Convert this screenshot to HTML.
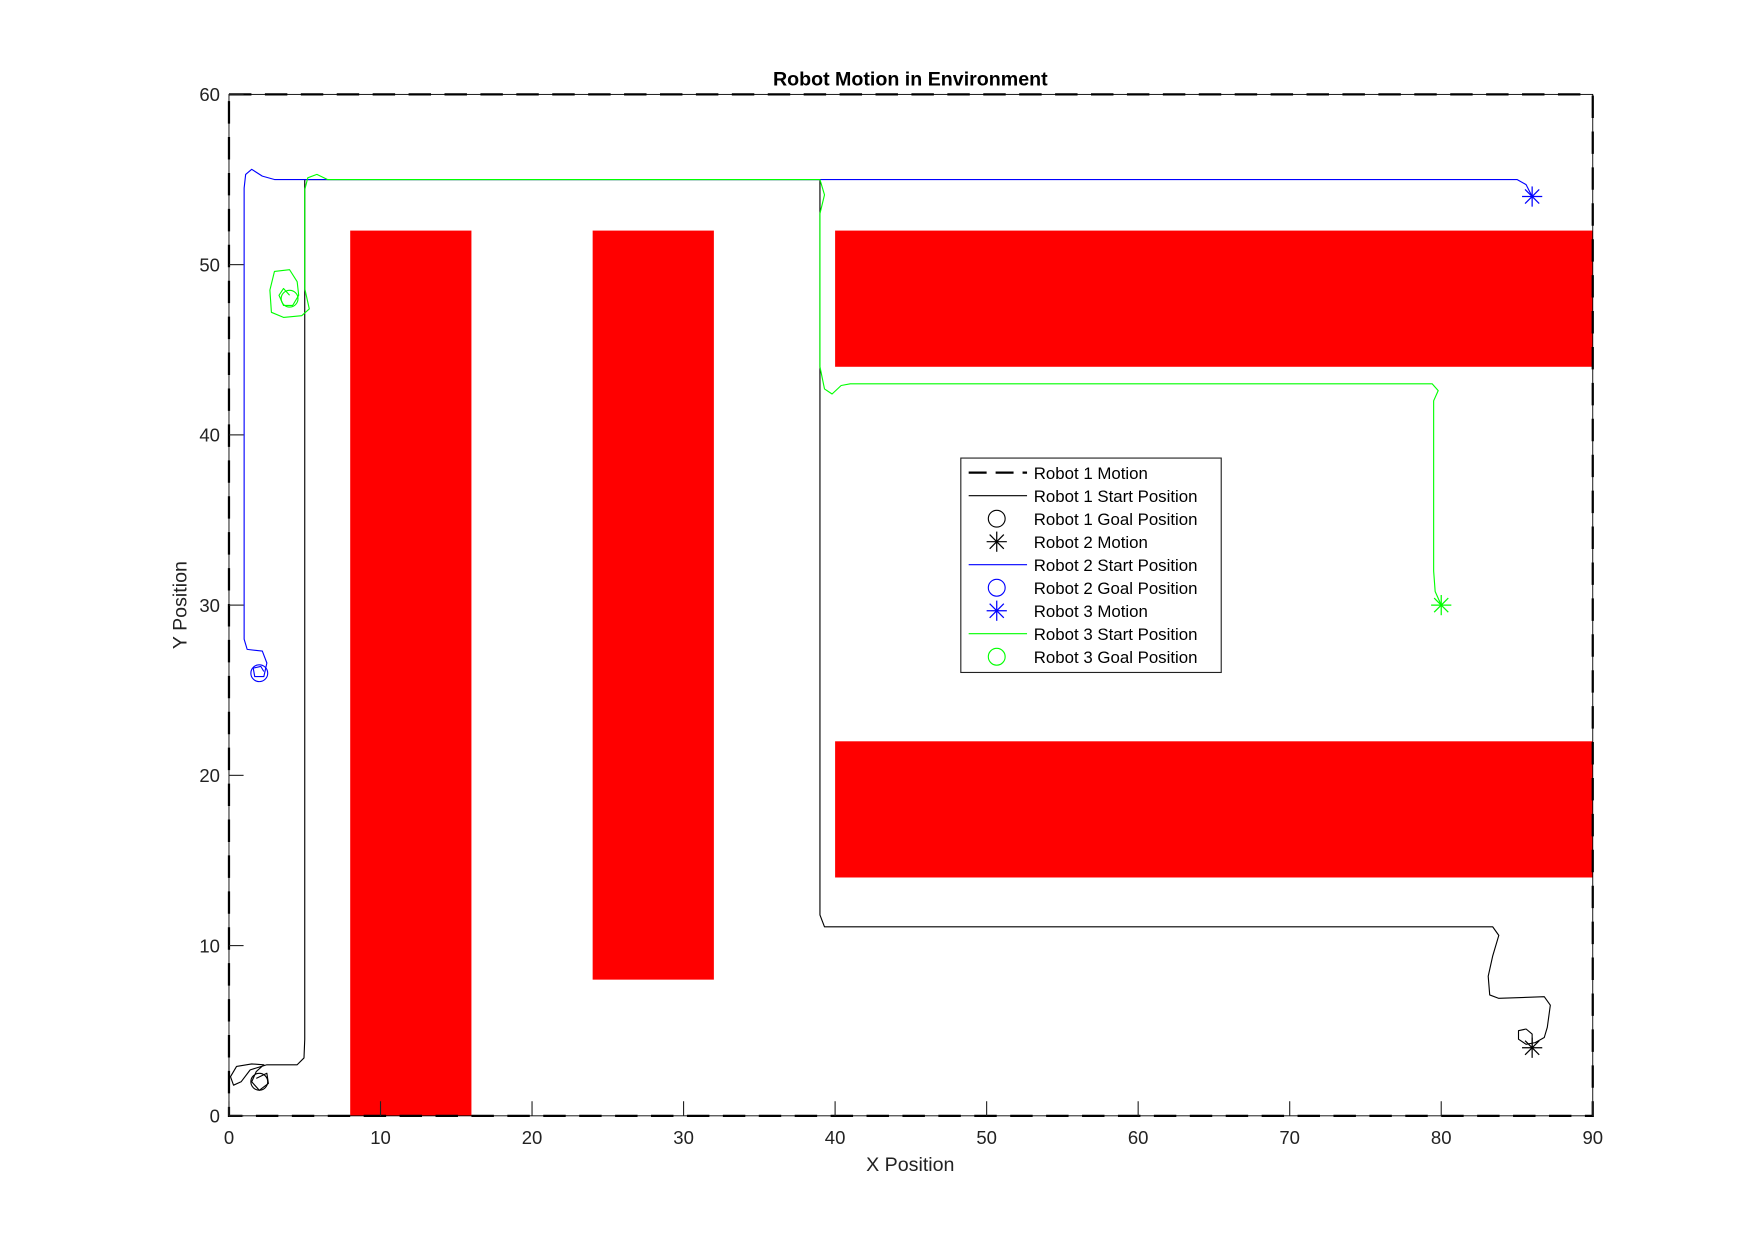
<!DOCTYPE html>
<html><head><meta charset="utf-8"><style>
html,body{margin:0;padding:0;background:#fff;width:1760px;height:1254px;overflow:hidden}
svg{display:block;font-family:"Liberation Sans",sans-serif}
</style></head><body>
<svg id="chart" width="1760" height="1254" viewBox="0 0 1568 1117" xmlns="http://www.w3.org/2000/svg">
<rect width="1568" height="1117" fill="#fff"/>
<g id="obst"></g>
<g id="paths"></g>
<g id="axes"></g>
<text x="811" y="76" text-anchor="middle" font-size="17.5" font-weight="bold">Robot Motion in Environment</text>
<text x="811" y="1043" text-anchor="middle" font-size="17.5" fill="#222">X Position</text>
<text transform="translate(166,539) rotate(-90)" text-anchor="middle" font-size="17.5" fill="#222">Y Position</text>
<g id="legend"></g>
</svg>
<script>
const xTicks=[0,10,20,30,40,50,60,70,80,90];
const yTicks=[0,10,20,30,40,50,60];
const obstacles=[[8,16,0,52],[24,32,8,52],[40,90,44,52],[40,90,14,22]];
const robot1Path=[[1.8,2.2],[2.5,2.5],[2.6,1.9],[2,1.5],[1.5,2],[1.8,2.6],[2.3,3.0],[1.5,3.05],[0.5,2.9],[0.1,2.3],[0.3,1.8],[0.8,2.0],[1.4,2.7],[2.5,3.0],[4.5,3.0],[4.95,3.4],[5,4.5],[5,49.3],[5,55],[39,55],[39,11.8],[39.3,11.1],[40,11.1],[83.4,11.1],[83.8,10.6],[83.4,9.4],[83.1,8.2],[83.2,7.1],[83.8,6.9],[86.8,7.0],[87.2,6.5],[87,5.2],[86.8,4.6],[86.2,4.3],[85.6,4.2],[85.1,4.5],[85.1,5.0],[85.6,5.1],[86,4.8],[86,4.0]];
const robot2Path=[[86,54],[85.6,54.7],[85,55],[3,55],[2.2,55.2],[1.5,55.6],[1.1,55.3],[1,54.5],[1,28],[1.2,27.4],[2.2,27.3],[2.5,26.6],[2.3,25.8],[1.7,25.8],[1.6,26.3],[2.1,26.4],[2.3,26.1]];
const robot3Path=[[80,30],[79.6,30.8],[79.5,32],[79.5,42],[79.8,42.6],[79.4,43],[41,43],[40.4,42.9],[39.8,42.4],[39.3,42.7],[39,44],[39,53],[39.3,54.1],[39,55],[6.5,55],[5.8,55.3],[5.2,55.1],[5,54.4],[5,48.6],[5.3,47.4],[4.8,47.0],[3.6,46.9],[2.8,47.2],[2.7,48.5],[3,49.6],[4,49.7],[4.5,49],[4.6,48.2],[4.2,47.6],[3.6,47.6],[3.3,48.2],[3.6,48.6],[4,48.2]];
const starts=[[86,4,'#000'],[86,54,'#00f'],[80,30,'#0f0']];
const goals=[[2,2,'#000'],[2,26,'#00f'],[4,48,'#0f0']];
const legendLabels=['Robot 1 Motion','Robot 1 Start Position','Robot 1 Goal Position','Robot 2 Motion','Robot 2 Start Position','Robot 2 Goal Position','Robot 3 Motion','Robot 3 Start Position','Robot 3 Goal Position'];
const NS='http://www.w3.org/2000/svg';
const X0=204,X1=1419,Y0=994,Y1=84;
const sx=v=>X0+(X1-X0)*v/90, sy=v=>Y0-(Y0-Y1)*v/60;
function mk(tag,attrs,parent){const e=document.createElementNS(NS,tag);for(const k in attrs)e.setAttribute(k,attrs[k]);parent.appendChild(e);return e;}
const gO=document.getElementById('obst'),gP=document.getElementById('paths'),gA=document.getElementById('axes'),gL=document.getElementById('legend');
obstacles.forEach((o,i)=>{const r=mk('rect',{x:sx(o[0]),y:sy(o[3]),width:sx(o[1])-sx(o[0]),height:sy(o[2])-sy(o[3]),fill:'#f00'},gO);

});
[[robot1Path,'#000'],[robot2Path,'#00f'],[robot3Path,'#0f0']].forEach((p,i)=>{const l=mk('polyline',{points:p[0].map(q=>sx(q[0])+','+sy(q[1])).join(' '),fill:'none',stroke:p[1],'stroke-width':1,'stroke-linejoin':'round'},gP);

});
function star(cx,cy,c,parent){const g=mk('g',{stroke:c,'stroke-width':1.1},parent);const r=9;
[[0,1],[1,0],[0.7,0.7],[0.7,-0.7]].forEach(d=>mk('line',{x1:cx-d[0]*r,y1:cy-d[1]*r,x2:cx+d[0]*r,y2:cy+d[1]*r},g));return g;}
starts.forEach((s,i)=>{const g=star(sx(s[0]),sy(s[1]),s[2],gP);

});
goals.forEach((s,i)=>{const c=mk('circle',{cx:sx(s[0]),cy:sy(s[1]),r:7.5,fill:'none',stroke:s[2],'stroke-width':1},gP);

});
// axes box
mk('rect',{x:X0,y:Y1,width:X1-X0,height:Y0-Y1,fill:'none',stroke:'#000','stroke-width':0.8},gA);
mk('rect',{x:X0,y:Y1,width:X1-X0,height:Y0-Y1,fill:'none',stroke:'#000','stroke-width':2,'stroke-dasharray':'20 12'},gA);
xTicks.forEach(t=>{const x=sx(t);mk('line',{x1:x,y1:Y0,x2:x,y2:Y0-13,stroke:'#222','stroke-width':1},gA);
const tx=mk('text',{x:x,y:Y0+25,'text-anchor':'middle','font-size':16.5,fill:'#222'},gA);tx.textContent=t;

});
yTicks.forEach(t=>{const y=sy(t);mk('line',{x1:X0,y1:y,x2:X0+13,y2:y,stroke:'#222','stroke-width':1},gA);
const tx=mk('text',{x:X0-8,y:y+6,'text-anchor':'end','font-size':16.5,fill:'#222'},gA);tx.textContent=t;

});
// legend
mk('rect',{x:856,y:408,width:232,height:191,fill:'#fff',stroke:'#222','stroke-width':1},gL);
const lc=['#000','#000','#000','#000','#00f','#00f','#00f','#0f0','#0f0'];
const lt=['dash','line','circle','star','line','circle','star','line','circle'];
legendLabels.forEach((lab,i)=>{const y=421+i*20.5;const g=mk('g',{},gL);


if(lt[i]==='dash')mk('line',{x1:863,y1:y,x2:915,y2:y,stroke:lc[i],'stroke-width':2,'stroke-dasharray':'16 8'},g);
if(lt[i]==='line')mk('line',{x1:863,y1:y,x2:915,y2:y,stroke:lc[i],'stroke-width':1},g);
if(lt[i]==='circle')mk('circle',{cx:888,cy:y,r:7.5,fill:'none',stroke:lc[i],'stroke-width':1},g);
if(lt[i]==='star')star(888,y,lc[i],g);
const t=mk('text',{x:921,y:y+5.5,'font-size':15,fill:'#000'},g);t.textContent=lab;});
</script>
</body></html>
